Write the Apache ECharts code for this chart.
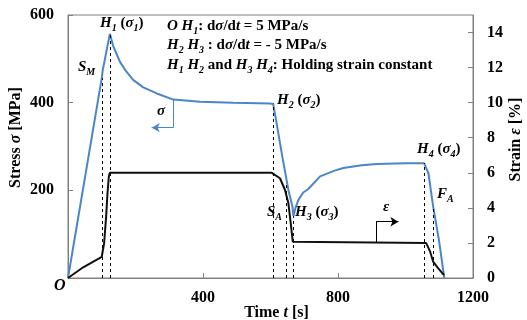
<!DOCTYPE html>
<html><head><meta charset="utf-8">
<script src="https://cdn.jsdelivr.net/npm/echarts@6/dist/echarts.min.js"></script>
<style>html,body{margin:0;padding:0;background:#fff}#c{width:527px;height:320px}</style>
</head><body><div id="c"></div>
<script>
// ---- data ----
const stressTime  = [0, 100, 103, 106, 124, 134, 144, 154, 169, 193, 223, 263, 312, 391, 489, 598, 608, 618, 635, 653, 665, 668, 674, 682, 697, 712, 747, 790, 816, 870, 915, 1000, 1055, 1068, 1082, 1099, 1115];
const stressValue = [0, 456, 475, 486, 557, 529, 511, 493, 475, 452, 435, 421, 407, 402, 400, 398, 397, 354, 277, 201, 163, 141, 160, 177, 195, 203, 232, 245, 251, 257, 260, 262, 262, 239, 163, 87, 0];
const strainTime  = [0, 45, 100, 107, 113, 117, 121, 124, 604, 628, 643, 653, 660, 666, 668, 1061, 1073, 1082, 1097, 1114];
const strainValue = [0, 0.61, 1.21, 1.98, 3.5, 4.83, 5.78, 6.0, 6.0, 5.69, 5.02, 4.26, 3.12, 2.07, 2.0, 2.0, 1.5, 0.93, 0.55, 0.17];
const eventTime   = [100, 124, 608, 648, 668, 1055, 1082];
const eventStress = [456, 557, 398, 215, 141, 262, 163];
const sigmaArrow  = {t: 312, from: 407, to: 343, end: 248};
const epsArrow    = {t: 913, from: 2.0, to: 3.21, end: 979};

const FF = '"Liberation Serif","Times New Roman",serif';
const BLUE = '#4a86c8';
const GRAY = '#808080';

const stressData = stressTime.map((t, i) => [t, stressValue[i]]);
const strainData = strainTime.map((t, i) => [t, strainValue[i]]);

const dashStyle = {type: [3, 3], color: '#000', width: 1};
const stressMarks = eventTime.map((t, i) => [
  {coord: [t, 0], symbol: 'none', lineStyle: dashStyle},
  {coord: [t, eventStress[i]], symbol: 'none', lineStyle: dashStyle}
]);
const blueSolid = {color: BLUE, width: 1, type: 'solid'};
const blackSolid = {color: '#000', width: 1, type: 'solid'};
stressMarks.push([
  {coord: [sigmaArrow.t, sigmaArrow.from], symbol: 'none', lineStyle: blueSolid},
  {coord: [sigmaArrow.t, sigmaArrow.to], symbol: 'none', lineStyle: blueSolid}
]);
stressMarks.push([
  {coord: [sigmaArrow.t, sigmaArrow.to], symbol: 'none', lineStyle: blueSolid},
  {coord: [sigmaArrow.end, sigmaArrow.to], symbol: 'arrow', lineStyle: blueSolid}
]);
const strainMarks = [
  [
    {coord: [epsArrow.t, epsArrow.from], symbol: 'none', lineStyle: blackSolid},
    {coord: [epsArrow.t, epsArrow.to], symbol: 'none', lineStyle: blackSolid}
  ],
  [
    {coord: [epsArrow.t, epsArrow.to], symbol: 'none', lineStyle: blackSolid},
    {coord: [epsArrow.end, epsArrow.to], symbol: 'arrow', lineStyle: blackSolid}
  ]
];

const R = {
  b: {fontFamily: FF, fontWeight: 'bold', fontSize: 15, lineHeight: 20, color: '#000'},
  i: {fontFamily: FF, fontWeight: 'bold', fontStyle: 'italic', fontSize: 15, lineHeight: 20, color: '#000'},
  s: {fontFamily: FF, fontWeight: 'bold', fontStyle: 'italic', fontSize: 10, lineHeight: 12, verticalAlign: 'bottom', color: '#000'}
};
function txt(x, y, text) {
  return {type: 'text', left: x, top: y, z: 100, style: {text: text, rich: R, font: 'bold 15px ' + FF}};
}

const labelStyle = {fontFamily: FF, fontWeight: 'bold', fontSize: 16, color: '#000'};
const axisName = {fontFamily: FF, fontWeight: 'bold', fontSize: 16, color: '#000'};
const nameRich = {
  b: {fontFamily: FF, fontWeight: 'bold', fontSize: 16, color: '#000'},
  i: {fontFamily: FF, fontWeight: 'bold', fontStyle: 'italic', fontSize: 16, color: '#000'}
};
const plain = v => String(v);

const chart = echarts.init(document.getElementById('c'), null, {renderer: 'canvas'});
chart.setOption({
  animation: false,
  backgroundColor: '#fff',
  grid: {left: 68, right: 54, top: 15, bottom: 42, containLabel: false, outerBoundsMode: 'none',
         show: true, borderColor: GRAY, borderWidth: 1, backgroundColor: 'transparent'},
  xAxis: {
    type: 'value', min: 0, max: 1200, interval: 400,
    name: '{b|Time }{i|t}{b| [s]}', nameLocation: 'middle', nameGap: 27, nameMoveOverlap: false,
    nameTextStyle: Object.assign({rich: nameRich, padding: [0, 0, 0, 12]}, axisName),
    axisLine: {show: true, lineStyle: {color: GRAY}},
    axisTick: {show: true, inside: true, length: 5, lineStyle: {color: GRAY}},
    axisLabel: Object.assign({margin: 12, showMinLabel: false, formatter: plain}, labelStyle),
    splitLine: {show: false}
  },
  yAxis: [
    {
      type: 'value', min: 0, max: 600, interval: 200, position: 'left',
      name: '{b|Stress }{i|σ}{b| [MPa]}', nameLocation: 'middle', nameGap: 44, nameRotate: 90, nameMoveOverlap: false,
      nameTextStyle: Object.assign({rich: nameRich, padding: [0, 0, 0, 18]}, axisName),
      axisLine: {show: true, lineStyle: {color: GRAY}},
      axisTick: {show: true, inside: true, length: 5, lineStyle: {color: GRAY}},
      axisLabel: Object.assign({margin: 14, showMinLabel: false, formatter: plain}, labelStyle),
      splitLine: {show: false}
    },
    {
      type: 'value', min: 0, max: 15, interval: 2, position: 'right',
      name: '{b|Strain }{i|ε}{b| [%]}', nameLocation: 'middle', nameGap: 35, nameRotate: 90, nameMoveOverlap: false,
      nameTextStyle: Object.assign({rich: nameRich, padding: [0, 0, 0, 14]}, axisName),
      axisLine: {show: true, lineStyle: {color: GRAY}},
      axisTick: {show: true, inside: true, length: 5, lineStyle: {color: GRAY}},
      axisLabel: Object.assign({margin: 14, showMaxLabel: false, formatter: plain}, labelStyle),
      splitLine: {show: false}
    }
  ],
  series: [
    {
      name: 'stress', type: 'line', yAxisIndex: 0, data: stressData,
      showSymbol: false, symbol: 'none', lineStyle: {color: BLUE, width: 2}, itemStyle: {color: BLUE}, z: 3,
      markLine: {silent: true, symbol: ['none', 'none'], symbolSize: [7, 8], label: {show: false}, data: stressMarks, animation: false}
    },
    {
      name: 'strain', type: 'line', yAxisIndex: 1, data: strainData,
      showSymbol: false, symbol: 'none', lineStyle: {color: '#111', width: 2}, itemStyle: {color: '#111'}, z: 3,
      markLine: {silent: true, symbol: ['none', 'none'], symbolSize: [7, 8], label: {show: false}, data: strainMarks, animation: false}
    }
  ],
  graphic: [
    txt(167, 19, '{i|O H}{s|1}{b|: d}{i|σ}{b|/d}{i|t}{b| = 5 MPa/s}'),
    txt(167, 38, '{i|H}{s|2}{i| H}{s|3}{b| : d}{i|σ}{b|/d}{i|t}{b| = - 5 MPa/s}'),
    txt(167, 58, '{i|H}{s|1}{i| H}{s|2}{b| and }{i|H}{s|3}{i| H}{s|4}{b|: Holding strain constant}'),
    txt(100, 16, '{i|H}{s|1}{b| (}{i|σ}{s|1}{b|)}'),
    txt(78, 60, '{i|S}{s|M}'),
    txt(277, 93, '{i|H}{s|2}{b| (}{i|σ}{s|2}{b|)}'),
    txt(417, 142, '{i|H}{s|4}{b| (}{i|σ}{s|4}{b|)}'),
    txt(437, 187, '{i|F}{s|A}'),
    txt(267, 205, '{i|S}{s|A}'),
    txt(295, 205, '{i|H}{s|3}{b| (}{i|σ}{s|3}{b|)}'),
    txt(157, 104, '{i|σ}'),
    txt(383, 200, '{i|ε}'),
    {type: 'text', left: 54, top: 278, z: 100, style: {text: 'O', font: 'italic bold 16px ' + FF, fill: '#000'}}
  ]
});
</script>
</body></html>
